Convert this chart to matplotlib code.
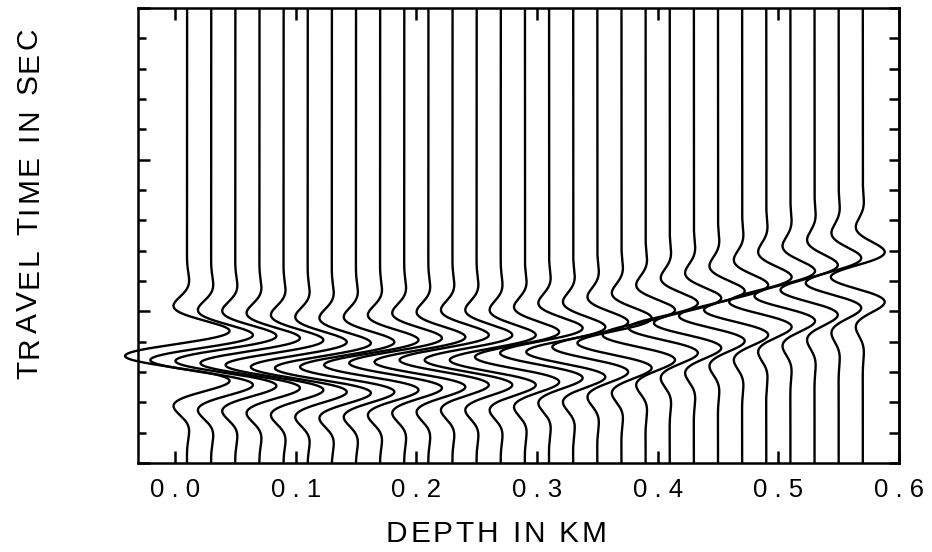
import numpy as np
import matplotlib
matplotlib.use("Agg")
import matplotlib.pyplot as plt
from matplotlib.font_manager import FontProperties, findfont
from matplotlib.ft2font import FT2Font

# ---------------- data ----------------
depth_km = [0.01, 0.03, 0.05, 0.07, 0.09, 0.11, 0.13, 0.15, 0.17, 0.19,
            0.21, 0.23, 0.25, 0.27, 0.29, 0.31, 0.33, 0.35, 0.37, 0.39,
            0.41, 0.43, 0.45, 0.47, 0.49, 0.51, 0.53, 0.55, 0.57]
# time of the main (leftward) lobe of each trace, seconds
arrival_s = [0.2294, 0.2321, 0.2327, 0.2341, 0.2354, 0.2367, 0.2374, 0.2367, 0.2354, 0.2341,
             0.2334, 0.2321, 0.2321, 0.2321, 0.2301, 0.2275, 0.2268, 0.2235, 0.2209, 0.2156,
             0.2110, 0.2077, 0.2031, 0.1991, 0.1938, 0.1899, 0.1859, 0.1813, 0.1774]
# peak deflection of each trace, in km of the depth axis
amplitude_km = [0.0514, 0.0505, 0.0497, 0.0489, 0.0481, 0.0472, 0.0472, 0.0464, 0.0464, 0.0456,
                0.0447, 0.0439, 0.0431, 0.0423, 0.0414, 0.0406, 0.0389, 0.0373, 0.0365, 0.0356,
                0.0340, 0.0331, 0.0323, 0.0315, 0.0307, 0.0298, 0.0282, 0.0273, 0.0265]
x_ticks = [0.0, 0.1, 0.2, 0.3, 0.4, 0.5, 0.6]
x_tick_labels = ["0 . 0", "0 . 1", "0 . 2", "0 . 3", "0 . 4", "0 . 5", "0 . 6"]
x_label = "DEPTH IN KM"
y_label = "TRAVEL TIME IN SEC"

# wavelet shape (seconds)
HALF_PERIOD = 0.0178
SIGMA = 0.0278

W, H, DPI = 932, 552, 100
fig = plt.figure(figsize=(W / DPI, H / DPI), dpi=DPI)
ax = fig.add_axes([138 / W, (H - 463) / H, 761 / W, 455 / H])

t = np.linspace(0.0, 0.3, 2000)
for d, t0, a in zip(depth_km, arrival_s, amplitude_km):
    tau = t - t0
    w = -np.exp(-(tau / SIGMA) ** 2) * np.cos(np.pi * tau / HALF_PERIOD)
    ax.plot(d + a * w, t, color="black", lw=1.7, clip_on=False,
            solid_joinstyle="round", solid_capstyle="butt")

ax.set_xlim(-0.0307, 0.6)
ax.set_ylim(0.3, 0.0)

for s in ax.spines.values():
    s.set_linewidth(1.8)

ax.set_xticks(x_ticks)
ax.set_xticklabels(x_tick_labels, fontfamily="Liberation Sans", fontsize=18.5)
ax.tick_params(axis="x", which="major", direction="in", length=8.5, width=1.8,
               top=True, bottom=True, pad=11)
ax.set_yticks([0.0, 0.1, 0.2, 0.3])
ax.set_yticks(np.arange(0.0, 0.3001, 0.02), minor=True)
ax.set_yticklabels([])
ax.tick_params(axis="y", which="major", direction="in", length=8.6, width=1.8,
               left=True, right=False)
ax.tick_params(axis="y", which="minor", direction="in", length=5.8, width=1.8,
               left=True, right=False)
sec = ax.secondary_yaxis("right")
sec.set_yticks(np.arange(0.0, 0.3001, 0.02))
sec.set_yticklabels([])
sec.tick_params(axis="y", which="major", direction="in", length=7.0, width=1.8)
sec.yaxis.set_minor_locator(matplotlib.ticker.NullLocator())
sec.spines["right"].set_linewidth(1.8)


def spaced_text(s, cx, cy, size_pt, spacing_px, rotation=0):
    """Draw s with extra letter spacing, centered at pixel (cx, cy) from top-left;
    cy is the baseline for horizontal text, cx the baseline for vertical text."""
    fp = FontProperties(family="Liberation Sans", size=size_pt)
    font = FT2Font(findfont(fp))
    font.set_size(size_pt, DPI)
    adv = [font.load_char(ord(c)).linearHoriAdvance / 65536.0 for c in s]
    total = sum(adv) + spacing_px * (len(s) - 1)
    pos = -total / 2.0
    for c, a in zip(s, adv):
        if rotation == 0:
            x, y = cx + pos, cy
        else:
            x, y = cx, cy - pos
        fig.text(x / W, 1 - y / H, c, fontproperties=fp, rotation=rotation,
                 rotation_mode="anchor", ha="left", va="baseline")
        pos += a + spacing_px


spaced_text(x_label, 496, 542, 21.5, 2.8)
spaced_text(y_label, 37, 203, 21.5, 2.8, rotation=90)

fig.savefig("out.png", dpi=DPI)
